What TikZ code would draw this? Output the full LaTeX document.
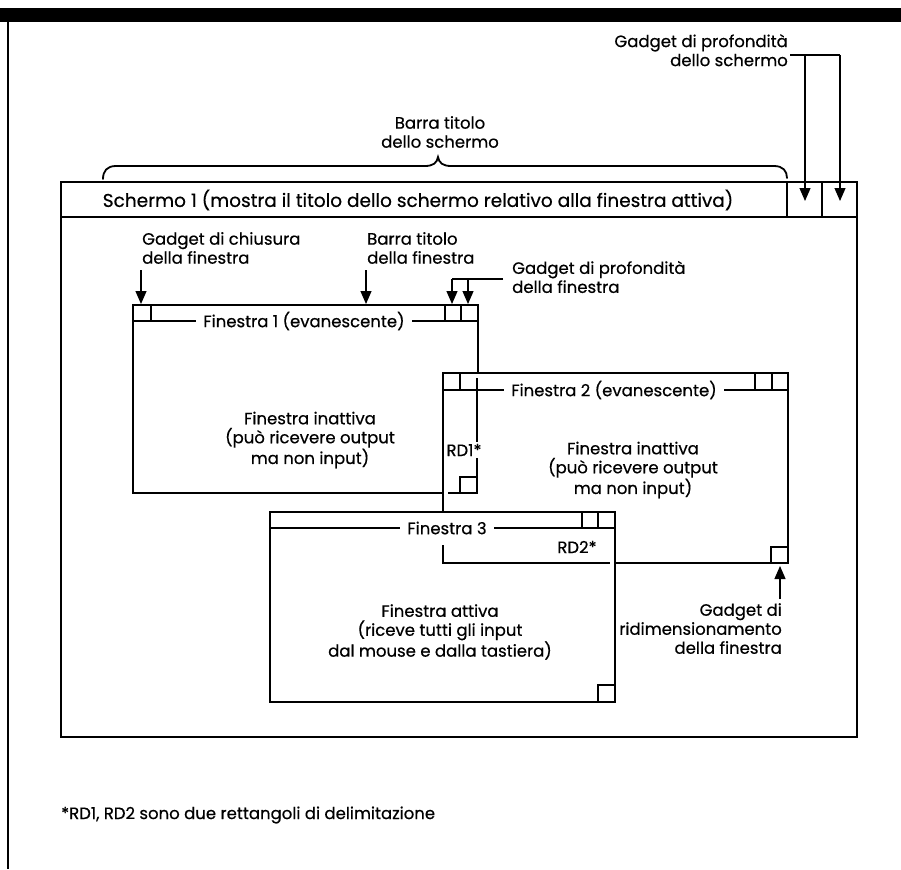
\documentclass[tikz,border=0pt]{standalone}
\usepackage{fontspec}
\setmainfont{Poppins}[FakeBold=0.5]
\usetikzlibrary{arrows.meta}
\begin{document}
\begin{tikzpicture}[x=1pt,y=-1pt,
  thickline/.style={line width=2.8pt},
  thinline/.style={line width=1.2pt},
  win/.style={line width=2.8pt, fill=white},
  lbl/.style={font=\fontsize{16.5}{19}\selectfont, inner sep=0pt},
  ttl/.style={font=\fontsize{16.5}{19}\selectfont, fill=white, inner xsep=7pt, inner ysep=1pt},
  arr/.style={line width=1.2pt, -{Triangle[width=11pt,length=13pt]}},
]
\fill[white] (0,0) rectangle (901,869);
\path[use as bounding box] (0,0) rectangle (901,869);
% page frame
\fill[black] (0,8) rectangle (901,22);
\draw[line width=2pt] (8,22) -- (8,869);

% screen
\draw[thickline] (61,182) rectangle (857,737);
\draw[thickline] (61,217) -- (857,217);
\draw[thickline] (787,182) -- (787,217);
\draw[thickline] (822,182) -- (822,217);
\node[lbl, font=\fontsize{18.5}{20}\selectfont] (stitle) at (418,200) {Schermo 1 (mostra il titolo dello schermo relativo alla finestra attiva)};

% screen depth gadget label
\node[lbl, align=right, anchor=north east] (sdl) at (788,34) {Gadget di profondità\\dello schermo};
\coordinate (sj0) at (790,55);
\coordinate (sj1) at (805,55);
\coordinate (sj2) at (840,55);
\coordinate (sg1) at (805,201);
\coordinate (sg2) at (840,201);
\draw[thinline] (sj0) -- (sj2);
\draw[arr] (sj1) -- (sg1);
\draw[arr] (sj2) -- (sg2);

% brace
\draw[line width=1.8pt, line cap=round] (103,179) .. controls (103,171) and (107,166) .. (116,166) -- (425,166) .. controls (433,166) and (437,163) .. (438,157) .. controls (439,163) and (443,166) .. (451,166) -- (774,166) .. controls (783,166) and (787,171) .. (787,178);
\node[lbl, align=center] (sbar) at (440,132) {Barra titolo\\dello schermo};

% window 1
\draw[win] (133,305) rectangle (478,493);
\draw[thickline] (133,321) -- (478,321);
\draw[thickline] (151,305) -- (151,321);
\draw[thickline] (445,305) -- (445,321);
\draw[thickline] (461,305) -- (461,321);
\node[ttl] (w1t) at (304,321) {Finestra 1 (evanescente)};
\node[lbl, align=center] (w1c) at (310,440) {Finestra inattiva\\(può ricevere output\\ma non input)};

% labels for window 1
\node[lbl, align=left, anchor=west] (lclose) at (142,248) {Gadget di chiusura\\della finestra};
\node[lbl, align=left, anchor=west] (lbar) at (367,248) {Barra titolo\\della finestra};
\node[lbl, align=left, anchor=west] (ldepth) at (512,277) {Gadget di profondità\\della finestra};
\coordinate (c1a) at (141,270); \coordinate (c1b) at (141,304);
\coordinate (b1a) at (366,270); \coordinate (b1b) at (366,304);
\coordinate (d0) at (503,279);
\coordinate (d1a) at (452,279); \coordinate (d1b) at (452,304);
\coordinate (d2a) at (468,279); \coordinate (d2b) at (468,304);
\draw[arr] (c1a) -- (c1b);
\draw[arr] (b1a) -- (b1b);
\draw[thinline] (d0) -- (d1a);
\draw[arr] (d1a) -- (d1b);
\draw[arr] (d2a) -- (d2b);

% window 2
\draw[win] (443,373) rectangle (788,563);
\draw[thickline] (443,390) -- (788,390);
\draw[thickline] (460,373) -- (460,390);
\draw[thickline] (755,373) -- (755,390);
\draw[thickline] (772,373) -- (772,390);
\draw[thickline] (771,563) -- (771,547) -- (788,547);
% RD1
\draw[thinline] (477,378) -- (477,493) -- (448,493);
\draw[thinline] (460,493) -- (460,477) -- (477,477);
\node[ttl] (w2t) at (614,390) {Finestra 2 (evanescente)};
\node[lbl, fill=white, inner sep=2pt] (rd1) at (464,450) {RD1*};
\node[lbl, align=center] (w2c) at (633,470) {Finestra inattiva\\(può ricevere output\\ma non input)};

% window 3
\draw[win] (270,512) rectangle (615,702);
\draw[thickline] (270,528) -- (615,528);
\draw[thickline] (582,512) -- (582,528);
\draw[thickline] (598,512) -- (598,528);
\draw[thickline] (598,702) -- (598,685) -- (615,685);
\node[ttl] (w3t) at (447,528) {Finestra 3};
\node[lbl, align=center] (w3c) at (440,632) {Finestra attiva\\(riceve tutti gli input\\dal mouse e dalla tastiera)};
% RD2
\draw[thinline] (443,545) -- (443,563) -- (610,563);
\node[lbl] (rd2) at (577,547) {RD2*};

% resize gadget label
\coordinate (ra) at (780,599);
\coordinate (rb) at (780,566);
\draw[arr] (ra) -- (rb);
\node[lbl, align=right, anchor=north east] (lres) at (782,603) {Gadget di\\ridimensionamento\\della finestra};

% footnote
\node[lbl, anchor=west] (fn) at (61,815) {*RD1, RD2 sono due rettangoli di delimitazione};
\end{tikzpicture}
\end{document}
